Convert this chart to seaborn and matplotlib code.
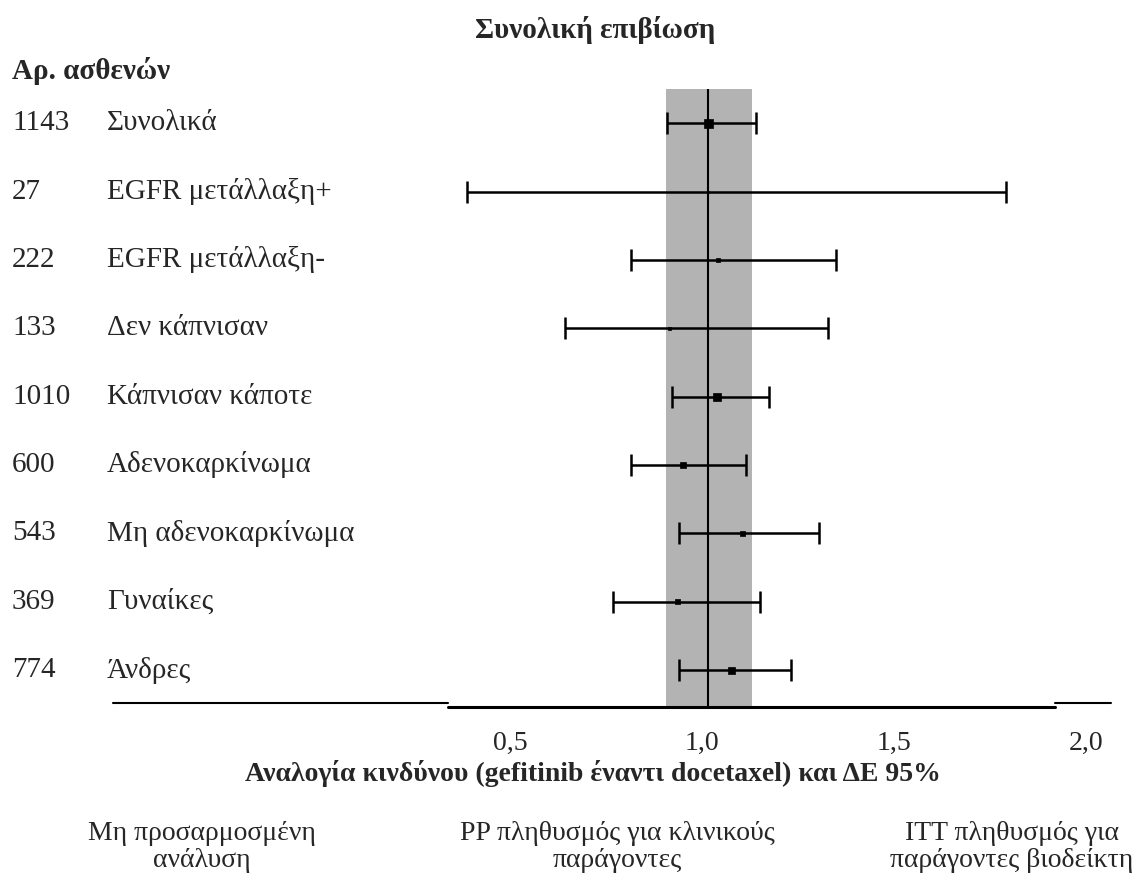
import matplotlib
matplotlib.use("Agg")
import matplotlib.pyplot as plt
import matplotlib.transforms as mtransforms
import seaborn as sns
import pandas as pd

# Δεδομένα (διαβασμένα από την εικόνα)
ασθενείς = ["1143", "27", "222", "133", "1010", "600", "543", "369", "774"]
υποομάδες = ["Συνολικά", "EGFR μετάλλαξη+", "EGFR μετάλλαξη-", "Δεν κάπνισαν",
             "Κάπνισαν κάποτε", "Αδενοκαρκίνωμα", "Μη αδενοκαρκίνωμα",
             "Γυναίκες", "Άνδρες"]
hr = [1.00, 1.00, 1.027, 0.899, 1.024, 0.936, 1.090, 0.921, 1.060]
ci_low = [0.892, 0.372, 0.800, 0.628, 0.907, 0.800, 0.924, 0.753, 0.924]
ci_high = [1.124, 1.776, 1.333, 1.312, 1.160, 1.099, 1.290, 1.135, 1.216]
band = (0.89, 1.115)
ticks = [0.5, 1.0, 1.5, 2.0]
tick_labels = ["0,5", "1,0", "1,5", "2,0"]
ομάδες_ανάλυσης = ["Μη προσαρμοσμένη\nανάλυση",
                   "PP πληθυσμός για κλινικούς\nπαράγοντες",
                   "ITT πληθυσμός για\nπαράγοντες βιοδείκτη"]

# μέγεθος δείκτη ανά γραμμή (στυλ)
marker_px = [9, 2, 4, 3, 8, 6, 5, 5, 7]

sns.set_theme(style="white")
plt.rcParams['font.family'] = ['Liberation Serif', 'DejaVu Serif']
plt.rcParams['font.size'] = 20

W, H = 1138, 888
fig = plt.figure(figsize=(W / 100, H / 100), dpi=100)
# ο άξονας φτάνει ως το 2,0 ώστε να φαίνεται η ετικέτα
ax = fig.add_axes([448 / W, 1 - 707 / H, (1111 - 448) / W, (707 - 89) / H])
x_min, x_axis_end, x_max = 0.3229, 1.9036, 2.0495

df = pd.DataFrame({"hr": hr, "low": ci_low, "high": ci_high,
                   "y": list(range(len(hr))), "s": [(p / 1.389) ** 2 for p in marker_px]})

ax.axvspan(band[0], band[1], color="#b3b3b3", lw=0, zorder=0)
ax.axvline(1.0, color="black", lw=1.5, zorder=1)
ax.errorbar(df["hr"], df["y"], xerr=[df["hr"] - df["low"], df["high"] - df["hr"]],
            fmt="none", ecolor="black", elinewidth=1.8, capsize=8, capthick=1.8, zorder=2)
sns.scatterplot(data=df, x="hr", y="y", size="s", sizes=(df["s"].min(), df["s"].max()),
                marker="s", color="black", edgecolor="black", linewidth=0.5,
                legend=False, ax=ax, zorder=3)

ax.set_yticks([])
ax.set_xticks(ticks)
ax.set_xticklabels(tick_labels, fontsize=20)
ax.set_xlim(x_min, x_max)
ax.set_ylim(8.54, -0.5)
ax.tick_params(axis="x", length=0, pad=17)
off = mtransforms.ScaledTranslation(-6 / 100, 0, fig.dpi_scale_trans)
for lab in ax.get_xticklabels():
    lab.set_transform(lab.get_transform() + off)
ax.set_xlabel("")
ax.set_ylabel("")
for side in ["top", "left", "right", "bottom"]:
    ax.spines[side].set_visible(False)

# άξονας x: κύρια παχιά γραμμή + λεπτές προεκτάσεις
btr = ax.get_xaxis_transform()
ax.plot([x_min, x_axis_end], [0, 0], transform=btr, color="black", lw=2.2,
        clip_on=False, zorder=4)
ax.plot([x_axis_end, x_max], [4 / 618, 4 / 618], transform=btr, color="black", lw=1.5,
        clip_on=False, zorder=4)
fig.add_artist(plt.Line2D([113 / W, 448 / W], [1 - 703 / H, 1 - 703 / H], color="black", lw=1.5))

# κείμενα γραμμών
tr = mtransforms.blended_transform_factory(fig.transFigure, ax.transData)
for i, (n, name) in enumerate(zip(ασθενείς, υποομάδες)):
    ax.text(12 / W, i, n, transform=tr, va="center", ha="left", fontsize=21)
    ax.text(107 / W, i, name, transform=tr, va="center", ha="left", fontsize=21)

fig.text(595 / W, 1 - 30 / H, "Συνολική επιβίωση", ha="center", va="center",
         fontsize=21, fontweight="bold")
fig.text(12 / W, 1 - 71 / H, "Αρ. ασθενών", ha="left", va="center",
         fontsize=21, fontweight="bold")
fig.text(593 / W, 1 - 773 / H, "Αναλογία κινδύνου (gefitinib έναντι docetaxel) και ΔΕ 95%",
         ha="center", va="center", fontsize=20, fontweight="bold")

for xc, txt in zip([202, 617, 1012], ομάδες_ανάλυσης):
    fig.text(xc / W, 1 - 847 / H, txt, ha="center", va="center", fontsize=20,
             multialignment="center", linespacing=1.15)

fig.savefig("out.png", dpi=100)
